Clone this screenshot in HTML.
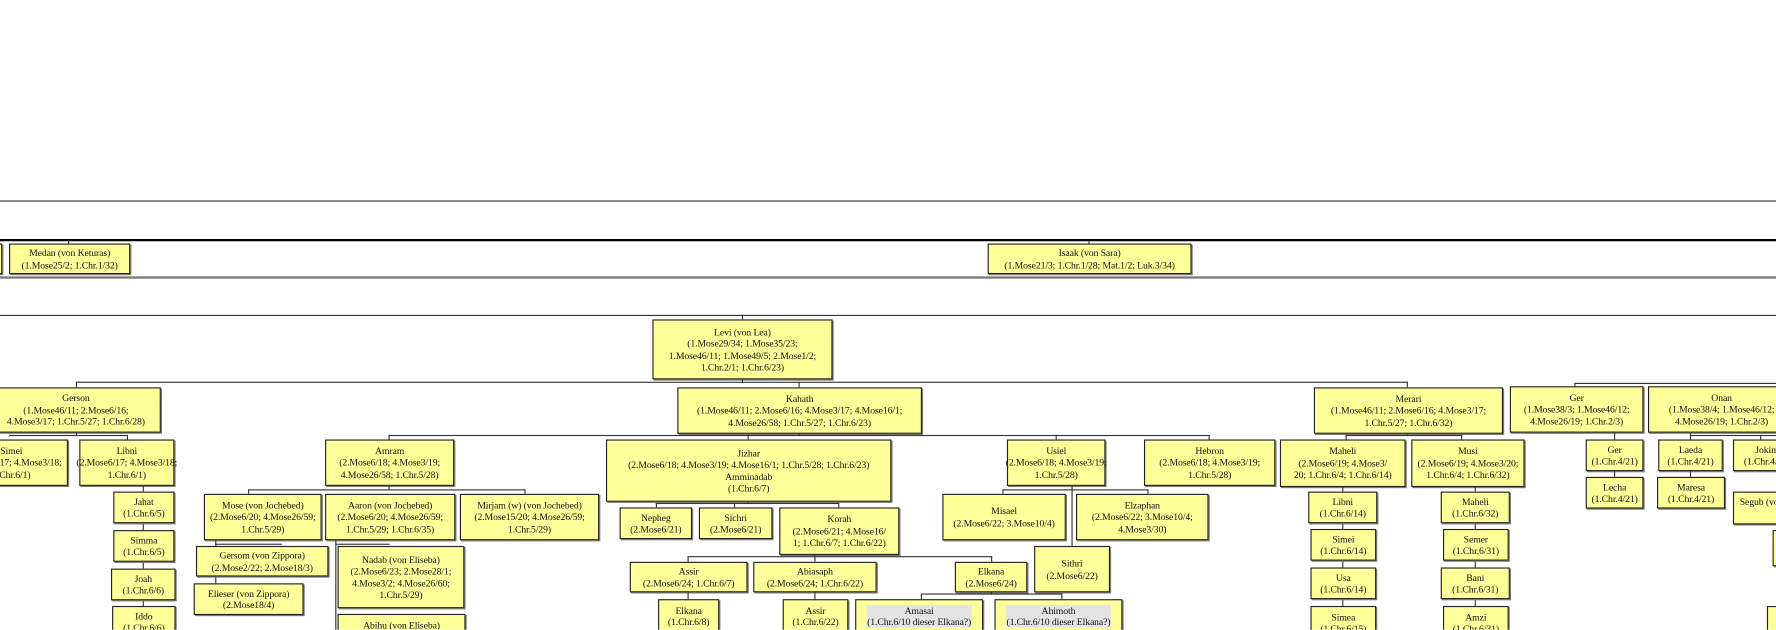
<!DOCTYPE html>
<html><head><meta charset="utf-8">
<style>
html,body{margin:0;padding:0;background:#fff;width:1776px;height:630px;overflow:hidden}
#c{position:absolute;left:0;top:0;width:1568px;height:556px;transform:scale(1.13265);transform-origin:0 0;overflow:hidden}
.b{position:absolute;background:#ffff99;border:1px solid #222;box-shadow:1px 1px 0 #777;font:8.6px/10.4px "Liberation Serif",serif;letter-spacing:-0.1px;color:#111;text-align:center;display:flex;align-items:center;justify-content:center;white-space:nowrap;box-sizing:border-box}
.g{background:#e4e4e4;padding:0 1px}
.h{position:absolute;height:1px;background:#333}
.v{position:absolute;width:1px;background:#333}
</style></head><body><div id="c">
<div class="h" style="left:0;top:177px;width:1568px"></div>
<div class="h" style="left:0;top:211px;width:1568px;height:2px;background:#000"></div>
<div class="h" style="left:0;top:244px;width:1568px;height:2px;background:#777"></div>
<div class="h" style="left:0;top:278px;width:1568px"></div>

<div class="b" style="left:-10px;top:215px;width:12px;height:27px"></div>
<div class="v" style="left:60px;top:212px;height:4px"></div>
<div class="b" style="left:8px;top:215px;width:107px;height:27px">Medan (von Keturas)<br>(1.Mose25/2; 1.Chr.1/32)</div>
<div class="v" style="left:961px;top:212px;height:4px"></div>
<div class="b" style="left:872px;top:215px;width:180px;height:27px">Isaak (von Sara)<br>(1.Mose21/3; 1.Chr.1/28; Mat.1/2; Luk.3/34)</div>

<div class="v" style="left:655px;top:278px;height:4px"></div>
<div class="b" style="left:576px;top:282px;width:159px;height:53px">Levi (von Lea)<br>(1.Mose29/34; 1.Mose35/23;<br>1.Mose46/11; 1.Mose49/5; 2.Mose1/2;<br>1.Chr.2/1; 1.Chr.6/23)</div>
<div class="v" style="left:655px;top:335px;height:3px"></div>
<div class="h" style="left:67px;top:337px;width:1176px"></div>
<div class="v" style="left:67px;top:337px;height:5px"></div>
<div class="v" style="left:705px;top:337px;height:5px"></div>
<div class="v" style="left:1242px;top:337px;height:5px"></div>

<div class="b" style="left:-8px;top:342px;width:150px;height:40px">Gerson<br>(1.Mose46/11; 2.Mose6/16;<br>4.Mose3/17; 1.Chr.5/27; 1.Chr.6/28)</div>
<div class="b" style="left:598px;top:342px;width:216px;height:41px">Kahath<br>(1.Mose46/11; 2.Mose6/16; 4.Mose3/17; 4.Mose16/1;<br>4.Mose26/58; 1.Chr.5/27; 1.Chr.6/23)</div>
<div class="b" style="left:1160px;top:342px;width:167px;height:41px">Merari<br>(1.Mose46/11; 2.Mose6/16; 4.Mose3/17;<br>1.Chr.5/27; 1.Chr.6/32)</div>

<div class="h" style="left:1390px;top:338px;width:180px"></div>
<div class="v" style="left:1390px;top:338px;height:4px"></div>
<div class="b" style="left:1333px;top:341px;width:118px;height:41px">Ger<br>(1.Mose38/3; 1.Mose46/12;<br>4.Mose26/19; 1.Chr.2/3)</div>
<div class="b" style="left:1455px;top:341px;width:130px;height:41px">Onan<br>(1.Mose38/4; 1.Mose46/12;<br>4.Mose26/19; 1.Chr.2/3)</div>

<div class="h" style="left:8px;top:384px;width:105px"></div>
<div class="v" style="left:67px;top:382px;height:3px"></div>
<div class="v" style="left:112px;top:384px;height:4px"></div>
<div class="b" style="left:-40px;top:388px;width:100px;height:41px">Simei<br>(2.Mose6/17; 4.Mose3/18;<br>1.Chr.6/1)</div>
<div class="b" style="left:70px;top:388px;width:84px;height:41px">Libni<br>(2.Mose6/17; 4.Mose3/18;<br>1.Chr.6/1)</div>
<div class="v" style="left:126px;top:429px;height:127px"></div>
<div class="b" style="left:100px;top:434px;width:54px;height:28px">Jahat<br>(1.Chr.6/5)</div>
<div class="b" style="left:100px;top:468px;width:54px;height:28px">Simma<br>(1.Chr.6/5)</div>
<div class="b" style="left:98px;top:502px;width:57px;height:28px">Joah<br>(1.Chr.6/6)</div>
<div class="b" style="left:99px;top:535px;width:56px;height:28px">Iddo<br>(1.Chr.6/6)</div>

<div class="h" style="left:343px;top:384px;width:725px"></div>
<div class="v" style="left:705px;top:383px;height:2px"></div>
<div class="v" style="left:343px;top:384px;height:4px"></div>
<div class="v" style="left:660px;top:384px;height:4px"></div>
<div class="v" style="left:932px;top:384px;height:4px"></div>
<div class="v" style="left:1067px;top:384px;height:4px"></div>
<div class="b" style="left:287px;top:388px;width:114px;height:41px">Amram<br>(2.Mose6/18; 4.Mose3/19;<br>4.Mose26/58; 1.Chr.5/28)</div>
<div class="b" style="left:535px;top:388px;width:252px;height:55px">Jizhar<br>(2.Mose6/18; 4.Mose3/19; 4.Mose16/1; 1.Chr.5/28; 1.Chr.6/23)<br>Amminadab<br>(1.Chr.6/7)</div>
<div class="b" style="left:889px;top:388px;width:87px;height:41px">Usiel<br>(2.Mose6/18; 4.Mose3/19;<br>1.Chr.5/28)</div>
<div class="b" style="left:1010px;top:388px;width:116px;height:41px">Hebron<br>(2.Mose6/18; 4.Mose3/19;<br>1.Chr.5/28)</div>

<div class="v" style="left:343px;top:429px;height:3px"></div>
<div class="h" style="left:219px;top:432px;width:245px"></div>
<div class="v" style="left:219px;top:432px;height:4px"></div>
<div class="v" style="left:463px;top:432px;height:4px"></div>
<div class="b" style="left:180px;top:436px;width:104px;height:41px">Mose (von Jochebed)<br>(2.Mose6/20; 4.Mose26/59;<br>1.Chr.5/29)</div>
<div class="b" style="left:287px;top:436px;width:115px;height:41px">Aaron (von Jochebed)<br>(2.Mose6/20; 4.Mose26/59;<br>1.Chr.5/29; 1.Chr.6/35)</div>
<div class="b" style="left:406px;top:436px;width:123px;height:41px">Mirjam (w) (von Jochebed)<br>(2.Mose15/20; 4.Mose26/59;<br>1.Chr.5/29)</div>
<div class="v" style="left:190px;top:477px;height:52px"></div>
<div class="h" style="left:190px;top:480px;width:59px"></div>
<div class="h" style="left:190px;top:495px;width:4px"></div>
<div class="h" style="left:190px;top:528px;width:4px"></div>
<div class="b" style="left:173px;top:482px;width:117px;height:27px">Gersom (von Zippora)<br>(2.Mose2/22; 2.Mose18/3)</div>
<div class="b" style="left:171px;top:515px;width:97px;height:28px">Elieser (von Zippora)<br>(2.Mose18/4)</div>
<div class="v" style="left:296px;top:477px;height:80px"></div>
<div class="h" style="left:296px;top:480px;width:48px"></div>
<div class="b" style="left:298px;top:482px;width:112px;height:55px">Nadab (von Eliseba)<br>(2.Mose6/23; 2.Mose28/1;<br>4.Mose3/2; 4.Mose26/60;<br>1.Chr.5/29)</div>
<div class="b" style="left:298px;top:542px;width:113px;height:30px">Abihu (von Eliseba)<br>(2.Mose6/23)</div>

<div class="v" style="left:660px;top:443px;height:2px"></div>
<div class="h" style="left:579px;top:444px;width:162px"></div>
<div class="v" style="left:579px;top:444px;height:4px"></div>
<div class="v" style="left:648px;top:444px;height:4px"></div>
<div class="v" style="left:740px;top:444px;height:4px"></div>
<div class="b" style="left:547px;top:448px;width:64px;height:28px">Nepheg<br>(2.Mose6/21)</div>
<div class="b" style="left:617px;top:448px;width:65px;height:28px">Sichri<br>(2.Mose6/21)</div>
<div class="b" style="left:688px;top:448px;width:106px;height:42px">Korah<br>(2.Mose6/21; 4.Mose16/<br>1; 1.Chr.6/7; 1.Chr.6/22)</div>
<div class="h" style="left:607px;top:491px;width:269px"></div>
<div class="v" style="left:607px;top:491px;height:5px"></div>
<div class="v" style="left:719px;top:490px;height:6px"></div>
<div class="v" style="left:875px;top:491px;height:5px"></div>
<div class="b" style="left:556px;top:496px;width:104px;height:27px">Assir<br>(2.Mose6/24; 1.Chr.6/7)</div>
<div class="b" style="left:665px;top:496px;width:109px;height:27px">Abiasaph<br>(2.Mose6/24; 1.Chr.6/22)</div>
<div class="b" style="left:843px;top:496px;width:64px;height:27px">Elkana<br>(2.Mose6/24)</div>
<div class="v" style="left:607px;top:523px;height:6px"></div>
<div class="v" style="left:719px;top:523px;height:6px"></div>
<div class="b" style="left:581px;top:529px;width:54px;height:30px">Elkana<br>(1.Chr.6/8)</div>
<div class="b" style="left:691px;top:529px;width:58px;height:30px">Assir<br>(1.Chr.6/22)</div>
<div class="v" style="left:875px;top:523px;height:2px"></div>
<div class="h" style="left:813px;top:524px;width:125px"></div>
<div class="v" style="left:813px;top:524px;height:5px"></div>
<div class="v" style="left:937px;top:524px;height:5px"></div>
<div class="b" style="left:755px;top:529px;width:113px;height:30px"><span class="g">Amasai<br>(1.Chr.6/10 dieser Elkana?)</span></div>
<div class="b" style="left:878px;top:529px;width:113px;height:30px"><span class="g">Ahimoth<br>(1.Chr.6/10 dieser Elkana?)</span></div>

<div class="h" style="left:885px;top:432px;width:129px"></div>
<div class="v" style="left:885px;top:432px;height:4px"></div>
<div class="v" style="left:1013px;top:432px;height:4px"></div>
<div class="v" style="left:946px;top:429px;height:53px"></div>
<div class="b" style="left:832px;top:436px;width:109px;height:41px">Misael<br>(2.Mose6/22; 3.Mose10/4)</div>
<div class="b" style="left:950px;top:436px;width:117px;height:41px">Elzaphan<br>(2.Mose6/22; 3.Mose10/4;<br>4.Mose3/30)</div>
<div class="b" style="left:913px;top:482px;width:67px;height:41px">Sithri<br>(2.Mose6/22)</div>

<div class="h" style="left:1188px;top:384px;width:103px"></div>
<div class="v" style="left:1242px;top:383px;height:2px"></div>
<div class="v" style="left:1188px;top:384px;height:4px"></div>
<div class="v" style="left:1290px;top:384px;height:4px"></div>
<div class="b" style="left:1130px;top:388px;width:111px;height:42px">Maheli<br>(2.Mose6/19; 4.Mose3/<br>20; 1.Chr.6/4; 1.Chr.6/14)</div>
<div class="b" style="left:1246px;top:388px;width:100px;height:42px">Musi<br>(2.Mose6/19; 4.Mose3/20;<br>1.Chr.6/4; 1.Chr.6/32)</div>
<div class="v" style="left:1185px;top:430px;height:126px"></div>
<div class="v" style="left:1302px;top:430px;height:126px"></div>
<div class="b" style="left:1155px;top:434px;width:61px;height:28px">Libni<br>(1.Chr.6/14)</div>
<div class="b" style="left:1157px;top:467px;width:58px;height:28px">Simei<br>(1.Chr.6/14)</div>
<div class="b" style="left:1157px;top:501px;width:58px;height:28px">Usa<br>(1.Chr.6/14)</div>
<div class="b" style="left:1157px;top:535px;width:58px;height:30px">Simea<br>(1.Chr.6/15)</div>
<div class="b" style="left:1272px;top:434px;width:61px;height:28px">Maheli<br>(1.Chr.6/32)</div>
<div class="b" style="left:1274px;top:467px;width:58px;height:28px">Semer<br>(1.Chr.6/31)</div>
<div class="b" style="left:1272px;top:501px;width:61px;height:28px">Bani<br>(1.Chr.6/31)</div>
<div class="b" style="left:1274px;top:535px;width:58px;height:30px">Amzi<br>(1.Chr.6/31)</div>

<div class="v" style="left:1425px;top:382px;height:6px"></div>
<div class="b" style="left:1400px;top:388px;width:51px;height:28px">Ger<br>(1.Chr.4/21)</div>
<div class="v" style="left:1425px;top:416px;height:5px"></div>
<div class="b" style="left:1400px;top:421px;width:51px;height:28px">Lecha<br>(1.Chr.4/21)</div>
<div class="h" style="left:1492px;top:384px;width:80px"></div>
<div class="v" style="left:1492px;top:382px;height:6px"></div>
<div class="v" style="left:1554px;top:384px;height:4px"></div>
<div class="b" style="left:1464px;top:388px;width:57px;height:28px">Laeda<br>(1.Chr.4/21)</div>
<div class="v" style="left:1492px;top:416px;height:5px"></div>
<div class="b" style="left:1463px;top:421px;width:60px;height:28px">Maresa<br>(1.Chr.4/21)</div>
<div class="b" style="left:1530px;top:388px;width:60px;height:28px">Jokim<br>(1.Chr.4/22)</div>
<div class="b" style="left:1530px;top:434px;width:80px;height:29px;justify-content:flex-start;padding-left:5px;align-items:flex-start;padding-top:3px">Segub (von</div>
<div class="b" style="left:1565px;top:468px;width:40px;height:32px"></div>
<div class="b" style="left:1560px;top:535px;width:40px;height:30px"></div>
</div></body></html>
